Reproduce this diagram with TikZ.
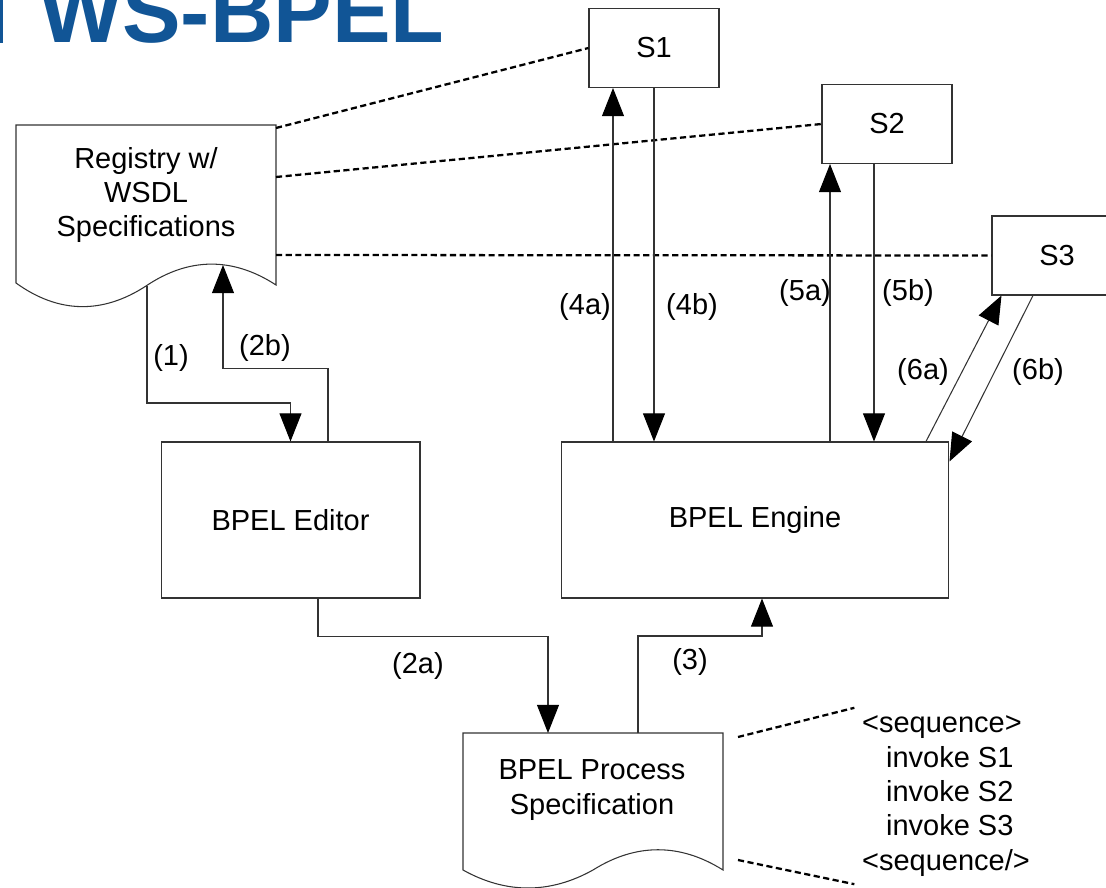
\documentclass[tikz,border=0pt]{standalone}
\usepackage{fontspec}
\setmainfont{Liberation Sans}
\usetikzlibrary{arrows.meta,positioning,calc}
\definecolor{titleblue}{RGB}{17,85,150}

\begin{document}
\begin{tikzpicture}[x=0.02cm, y=-0.02cm,
    font=\fontsize{16.5pt}{19.6pt}\selectfont,
    line/.style={draw=black!80, line width=0.6pt},
    arr/.style={line, -{Triangle[length=16pt 0 0, width=12.5pt 0 0, color=black]}},
    link/.style={line width=1.3pt, dash pattern=on 3.5pt off 2pt},
    svc/.style={rectangle, line, fill=white, minimum width=2.6cm, minimum height=1.58cm},
    tool/.style={rectangle, line, minimum height=3.12cm}]
    \useasboundingbox (0,0) rectangle (1106,888);

    % Title (cut by the top edge)
    \fill[titleblue] (0,0) rectangle (3,43);
    \node[anchor=base west, inner sep=0pt, text=titleblue,
        font=\fontsize{50pt}{60pt}\selectfont\bfseries] (title) at (39,43) {WS-BPEL};

    % Registry document
    \draw[line, fill=white] (16,125) -- (276,125) -- (276,285)
        .. controls (233,257) and (189,257) .. (146,286)
        .. controls (103,314) and (59,314) .. (16,283) -- cycle;
    \node[align=center] (reg) at (146,195) {Registry w/\\WSDL\\Specifications};
    \coordinate (regout) at (147,286);
    \coordinate (regin) at (223,265);
    \coordinate (rega) at (276,128);
    \coordinate (regb) at (276,177);
    \coordinate (regc) at (276,255);

    % Services
    \node[svc] (s1) at (654,48) {S1};
    \node[svc] (s2) at (887,124) {S2};
    \node[svc] (s3) at (1057,255.5) {S3};

    % Editor and engine
    \node[tool, minimum width=5.18cm] (editor) at (290.5,520) {BPEL Editor};
    \node[tool, minimum width=7.76cm] (engine) at (755,520) {BPEL Engine};

    % Process specification document
    \draw[line, fill=white] (463,733) -- (723,733) -- (723,870)
        .. controls (680,843) and (636,843) .. (593,870)
        .. controls (550,894) and (506,894) .. (463,870) -- cycle;
    \node[align=center] (spec) at (592,790) {BPEL Process\\Specification};
    \coordinate (specin) at (548,733);
    \coordinate (specout) at (638,733);
    \coordinate (specne) at (738,737);
    \coordinate (specse) at (738,860);

    % Process listing
    \node[align=left, inner sep=0.15cm] (seq) at (946,796)
        {<sequence>\\\hspace{0.48cm}invoke S1\\\hspace{0.48cm}invoke S2\\\hspace{0.48cm}invoke S3\\<sequence/>};

    % Dotted links
    \draw[link] (rega) -- (s1.west);
    \draw[link] (regb) -- (s2.west);
    \draw[link] (regc) -- (s3.west);
    \draw[link] (specne) -- (seq.north west);
    \draw[link] (specse) -- (seq.south west);

    % Editor <-> registry
    \draw[arr] (regout) -- ++(0,117) -| (editor.north);
    \draw[arr] ([xshift=0.75cm]editor.north) -- ++(0,-73) -| (regin);
    \node (l1) at (171,358) {(1)};
    \node (l2b) at (265,348) {(2b)};

    % Editor -> spec -> engine
    \draw[arr] ([xshift=0.55cm]editor.south) -- ++(0,38) -| (specin);
    \draw[arr] (specout) -- ++(0,-97) -| ([xshift=0.14cm]engine.south);
    \node (l2a) at (418,666) {(2a)};
    \node (l3) at (690,662) {(3)};

    % Engine <-> services
    \coordinate (a4) at ([xshift=-0.82cm]s1.south);
    \coordinate (a5) at ([xshift=-1.14cm]s2.south);
    \coordinate (b5) at ([xshift=-0.26cm]s2.south);
    \draw[arr] (engine.north -| a4) -- (a4);
    \draw[arr] (s1.south) -- (s1.south |- engine.north);
    \draw[arr] (engine.north -| a5) -- (a5);
    \draw[arr] (b5) -- (b5 |- engine.north);
    \draw[arr] ([xshift=3.42cm]engine.north) -- ([xshift=0.2cm]s3.south west);
    \draw[arr] ([xshift=-0.48cm]s3.south) -- ([yshift=-0.4cm]engine.north east);
    \node (l4a) at (585,307) {(4a)};
    \node (l4b) at (692,307) {(4b)};
    \node (l5a) at (805,293) {(5a)};
    \node (l5b) at (908,293) {(5b)};
    \node (l6a) at (923,372) {(6a)};
    \node (l6b) at (1038,372) {(6b)};
\end{tikzpicture}
\end{document}
